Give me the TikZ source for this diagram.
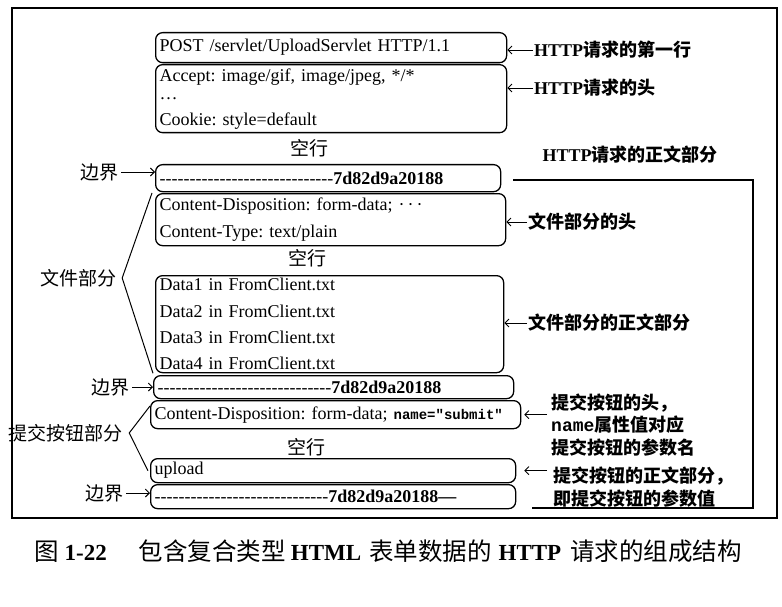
\documentclass[tikz,border=0pt]{standalone}
\usepackage{fontspec}
\setmainfont{Liberation Serif}
\setmonofont{Liberation Mono}
\newfontfamily\cjk{Noto Sans CJK SC}
\usetikzlibrary{arrows.meta,positioning}
\frenchspacing
% a row of hyphens, kept apart so they do not turn into dashes
\newcommand\hyph[1]{\foreach \k in {1,...,#1}{-\kern0pt}}

\begin{document}
\begin{tikzpicture}[
    x=1pt, y=-1pt,
    font=\fontsize{18}{22}\selectfont,
    box/.style={
        rectangle, rounded corners=7pt, draw, line width=1.3pt,
        anchor=north west, align=left,
        inner xsep=4pt, inner ysep=1pt
    },
    lbl/.style={font=\cjk\fontsize{19}{22}\selectfont, inner sep=3pt},
    gap/.style={font=\cjk\fontsize{19}{22}\selectfont, inner sep=0pt},
    note/.style={font=\cjk\bfseries\fontsize{18}{22.5}\selectfont,
        anchor=west, align=left, inner sep=1pt},
    arrow/.style={-{Straight Barb[length=4pt,width=8pt]}, line width=0.9pt},
    brace/.style={line width=1pt}
]
\useasboundingbox (0,0) rectangle (782,607);
\draw[line width=1.5pt] (12,8) rectangle (777,518);

% request line and headers
\node[box, text width=343pt, minimum height=30pt] (req) at (155,32)
    {POST /servlet/UploadServlet HTTP/1.1};
\node[box, text width=343pt, minimum height=68pt] (hdr) at (155,64)
    {Accept: image/gif, image/jpeg, */*\\[-4pt] \ldots\\[4pt] Cookie: style=default};
\node[gap] (gap1) at (309,148) {空行};

% file part
\node[box, text width=337pt, minimum height=27pt] (bnd1) at (155,164)
    {\hyph{29}\textbf{7d82d9a20188}};
\node[box, text width=342pt, minimum height=52pt,
      font=\fontsize{18}{27}\selectfont] (fhead) at (155,193)
    {Content-Disposition: form-data; ·\,·\,·\\ Content-Type: text/plain};
\node[gap] (gap2) at (307,258) {空行};
\node[box, text width=340pt, minimum height=97pt,
      font=\fontsize{18}{26.3}\selectfont] (fdata) at (155,275)
    {Data1 in FromClient.txt\\ Data2 in FromClient.txt\\
     Data3 in FromClient.txt\\ Data4 in FromClient.txt};

% submit button part
\node[box, text width=352pt, minimum height=23pt] (bnd2) at (153,375)
    {\hyph{29}\textbf{7d82d9a20188}};
\node[box, text width=362pt, minimum height=28pt] (shead) at (150,400)
    {Content-Disposition: form-data; {\ttfamily\bfseries\fontsize{14}{16}\selectfont name="submit"}};
\node[gap] (gap3) at (306,447) {空行};
\node[box, text width=357pt, minimum height=24pt] (sval) at (150,458) {upload};
\node[box, text width=357pt, minimum height=24pt] (bnd3) at (150,484)
    {\hyph{29}\textbf{7d82d9a20188—}};

% left labels
\node[lbl] (b1)    at (99,172)  {边界};
\node[lbl] (lfile) at (78,278)  {文件部分};
\node[lbl] (b2)    at (110,387) {边界};
\node[lbl] (lsub)  at (66,433)  {提交按钮部分};
\node[lbl] (b3)    at (104,493) {边界};

\draw[arrow] (b1.east) -- (b1.east -| bnd1.west);
\draw[arrow] (b2.east) -- (b2.east -| bnd2.west);
\draw[arrow] (b3.east) -- (b3.east -| bnd3.west);
\draw[brace] ([xshift=-3pt]fhead.north west) -- ([xshift=3pt]lfile.east) -- ([xshift=-2pt]fdata.south west);
\draw[brace] ([yshift=-6pt]shead.north west) -- ([xshift=3pt]lsub.east) -- ([xshift=-2pt]sval.west);

% right labels
\node[note] (r1) at (533,50)  {{\rmfamily HTTP}请求的第一行};
\node[note] (r2) at (533,88)  {{\rmfamily HTTP}请求的头};
\node[note, anchor=center] (rbody) at (630,155) {{\rmfamily HTTP}请求的正文部分};
\node[note] (r3) at (527,222) {文件部分的头};
\node[note] (r4) at (527,323) {文件部分的正文部分};
\node[note] (r5) at (550,425)
    {提交按钮的头，\\{\ttfamily name}属性值对应\\提交按钮的参数名};
\node[note] (r6) at (552,487) {提交按钮的正文部分，\\即提交按钮的参数值};

\draw[arrow] (r1.west) -- (r1.west -| req.east);
\draw[arrow] (r2.west) -- (r2.west -| hdr.east);
\draw[arrow] (r3.west) -- (r3.west -| fhead.east);
\draw[arrow] (r4.west) -- (r4.west -| fdata.east);
\draw[arrow] ([xshift=-3pt]shead.east -| r5.west) -- ([xshift=3pt]shead.east);
\draw[arrow] ([xshift=-5pt]sval.east -| r6.west) -- ([xshift=8pt]sval.east);

% frame of the body
\draw[line width=1.2pt] (513,180) -- (753,180) -- (753,508) -- (532,508);

% caption
\node[font=\fontsize{23}{27}\selectfont, inner sep=0pt] (cap) at (388,551)
    {{\cjk\fontsize{24.5}{27}\selectfont 图}\hspace{6pt}\textbf{1-22}\hspace{32pt}%
     {\cjk\fontsize{24.5}{27}\selectfont 包含复合类型}\hspace{5pt}\textbf{HTML}\hspace{8pt}%
     {\cjk\fontsize{24.5}{27}\selectfont 表单数据的}\hspace{7pt}\textbf{HTTP}\hspace{9pt}%
     {\cjk\fontsize{24.5}{27}\selectfont 请求的组成结构}};
\end{tikzpicture}
\end{document}
